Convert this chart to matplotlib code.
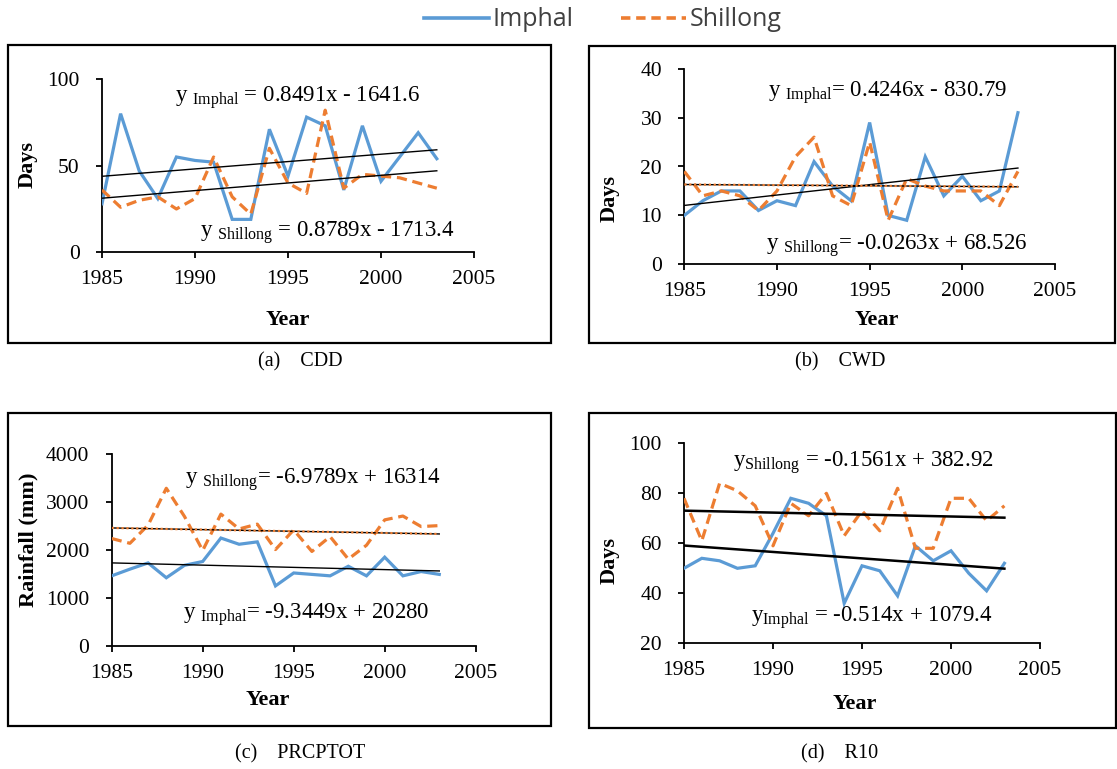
import matplotlib
matplotlib.use("Agg")
import matplotlib.pyplot as plt
from matplotlib.patches import Rectangle
from matplotlib.lines import Line2D
import numpy as np

plt.rcParams['font.family'] = ['Liberation Serif', 'DejaVu Serif']
plt.rcParams['mathtext.fontset'] = 'custom'
plt.rcParams['mathtext.rm'] = 'Liberation Serif'
plt.rcParams['mathtext.it'] = 'Liberation Serif:italic'

years = list(range(1985, 2004))

cdd_imphal = [28, 80, 47, 31, 55, 53, 52, 19, 19, 71, 44, 78, 73, 36, 73, 41, 55, 69, 54]
cdd_shillong = [36, 26, 30, 32, 25, 31, 55, 32, 22, 60, 40, 34, 82, 37, 45, 44, 43, 40, 37]

cwd_imphal = [10, 13, 15, 15, 11, 13, 12, 21, 16, 13, 29, 10, 9, 22, 14, 18, 13, 15, 31]
cwd_shillong = [19, 14, 15, 14, 11, 15, 22, 26, 14, 12, 25, 9, 17.5, 16, 15, 15, 15, 12, 19]

prcp_imphal = [1460, 1600, 1730, 1420, 1680, 1760, 2250, 2120, 2170, 1250, 1520, 1490,
               1460, 1660, 1460, 1850, 1460, 1550, 1490]
prcp_shillong = [2240, 2140, 2520, 3290, 2700, 1990, 2750, 2440, 2540, 2010, 2420, 1970,
                 2280, 1810, 2100, 2630, 2710, 2490, 2510]

r10_imphal = [50, 54, 53, 50, 51, 64, 78, 76, 71, 36, 51, 49, 39, 59, 53, 57, 48, 41, 52]
r10_shillong = [78, 61, 84, 81, 75, 59, 76, 71, 80, 63, 73, 65, 82, 58, 58, 78, 78, 69, 75]

# trend-line coefficients (slope, intercept) as printed on the chart
trend = {
    'a': {'Imphal': (0.8491, -1641.6), 'Shillong': (0.8789, -1713.4)},
    'b': {'Imphal': (0.4246, -830.79), 'Shillong': (-0.0263, 68.526)},
    'c': {'Imphal': (-9.3449, 20280), 'Shillong': (-6.9789, 16314)},
    'd': {'Imphal': (-0.514, 1079.4), 'Shillong': (-0.1561, 382.92)},
}

captions = {'a': '(a)    CDD', 'b': '(b)    CWD', 'c': '(c)    PRCPTOT', 'd': '(d)    R10'}
ylabels = {'a': 'Days', 'b': 'Days', 'c': 'Rainfall (mm)', 'd': 'Days'}
yticks = {'a': [0, 50, 100], 'b': [0, 10, 20, 30, 40], 'c': [0, 1000, 2000, 3000, 4000],
          'd': [20, 40, 60, 80, 100]}
xticks = [1985, 1990, 1995, 2000, 2005]

W, H = 1117, 769
fig = plt.figure(figsize=(W / 100, H / 100), dpi=100)

BLUE = '#5B9BD5'
ORANGE = '#ED7D31'

def fx(x):
    return x / W

def fy(y):
    return 1 - y / H

def add_ax(x0, x1, ytop, ybot):
    return fig.add_axes([fx(x0), fy(ybot), fx(x1 - x0), (ybot - ytop) / H])

# panel boxes
for (x0, y0, x1, y1) in [(8, 45, 551, 343), (589, 46, 1115, 343),
                         (8, 413, 551, 726), (589, 413, 1116, 728)]:
    fig.patches.append(Rectangle((fx(x0), fy(y1)), fx(x1 - x0), (y1 - y0) / H,
                                 transform=fig.transFigure, fill=False,
                                 edgecolor='black', linewidth=1.6))

axes_pos = {
    'a': (102, 474, 79, 252.3),
    'b': (684.3, 1055, 68.7, 264.3),
    'c': (111.7, 475.7, 454.3, 645.7),
    'd': (684, 1040, 443.3, 643.3),
}
data = {
    'a': (cdd_imphal, cdd_shillong),
    'b': (cwd_imphal, cwd_shillong),
    'c': (prcp_imphal, prcp_shillong),
    'd': (r10_imphal, r10_shillong),
}

yr = np.array([years[0], years[-1]], dtype=float)
for k, (x0, x1, yt, yb) in axes_pos.items():
    ax = add_ax(x0, x1, yt, yb)
    imp, shl = data[k]
    ax.plot(years, imp, color=BLUE, lw=2.3, solid_joinstyle='miter', zorder=3)
    ax.plot(years, shl, color=ORANGE, lw=2.3, ls=(0, (3.2, 1.8)), zorder=3)
    lw_tr = 1.8 if k == 'd' else 1.0
    for st in ['Imphal', 'Shillong']:
        m, c = trend[k][st]
        ax.plot(yr, m * yr + c, color='black', lw=lw_tr, zorder=4)
        if st == 'Shillong' and k in ('b', 'c'):
            ax.plot(yr, m * yr + c, color=ORANGE, lw=1.6, ls=(0, (1, 1.2)), zorder=5)
    ax.set_xlim(1985, 2005)
    ax.set_ylim(yticks[k][0], yticks[k][-1])
    ax.set_xticks(xticks)
    ax.set_yticks(yticks[k])
    for s in ['top', 'right']:
        ax.spines[s].set_visible(False)
    for s in ['left', 'bottom']:
        ax.spines[s].set_linewidth(1.3)
    ax.tick_params(direction='out', length=4, width=1.3, labelsize=15.5)
    ax.tick_params(axis='x', pad=9)
    ax.tick_params(axis='y', pad=12)
    ax.patch.set_alpha(0)

# axis labels
lab_pos = {
    'a': ((28, 165), (288, 320)),
    'b': ((610, 198), (877, 320)),
    'c': ((28, 540), (268, 700)),
    'd': ((610, 560), (855, 704)),
}
for k, ((lx, ly), (xx, xy)) in lab_pos.items():
    fig.text(fx(lx), fy(ly), ylabels[k], rotation=90, ha='center', va='center',
             fontsize=16, fontweight='bold')
    fig.text(fx(xx), fy(xy), 'Year', ha='center', va='center', fontsize=16,
             fontweight='bold')

# captions
cap_pos = {'a': (300, 362), 'b': (840, 362), 'c': (300, 754), 'd': (840, 754)}
for k, (cx, cy) in cap_pos.items():
    fig.text(fx(cx), fy(cy), captions[k], ha='center', va='center', fontsize=14.5)

def put_eq(x, y, st, m, c, subspace=True, eqspace=False):
    label = (r'y $_{\mathrm{%s}}$' % st) if subspace else (r'y$_{\mathrm{%s}}$' % st)
    sign = '-' if c < 0 else '+'
    s = label + (' ' if eqspace else '') + f'= {m:g}x {sign} {abs(c):g}'
    fig.text(fx(x), fy(y), s, ha='left', va='center', fontsize=16.5)

put_eq(175, 98, 'Imphal', 0.8491, -1641.6, eqspace=True)
put_eq(200, 233, 'Shillong', 0.8789, -1713.4, eqspace=True)
put_eq(768, 93, 'Imphal', 0.4246, -830.79)
put_eq(766, 246, 'Shillong', -0.0263, 68.526)
put_eq(185, 480, 'Shillong', -6.9789, 16314)
put_eq(183, 615, 'Imphal', -9.3449, 20280)
put_eq(733, 463, 'Shillong', -0.1561, 382.92, subspace=False, eqspace=True)
put_eq(751, 618, 'Imphal', -0.514, 1079.4, subspace=False, eqspace=True)

# legend at top
handles = [Line2D([], [], color=BLUE, lw=2.6),
           Line2D([], [], color=ORANGE, lw=2.6, ls=(0, (2.6, 1.6)))]
leg = fig.legend(handles, ['Imphal', 'Shillong'], loc='center', bbox_to_anchor=(fx(603), fy(20)),
                 ncol=2, frameon=False, handlelength=2.6, handletextpad=0.15, columnspacing=1.9,
                 prop={'family': 'Open Sans', 'size': 18})
for t in leg.get_texts():
    t.set_color('#404040')

fig.savefig('out.png', dpi=100)
